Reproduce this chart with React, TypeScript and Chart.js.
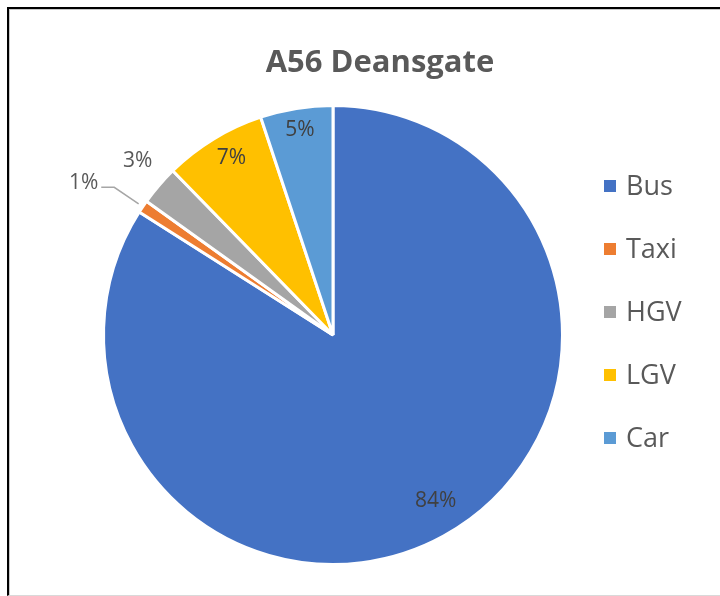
import React, { useEffect, useRef } from "react";
import { Chart, registerables } from "chart.js";

Chart.register(...registerables);

const title = "A56 Deansgate";
const categories = ["Bus", "Taxi", "HGV", "LGV", "Car"];
const shares = [84.0, 0.9, 2.8, 7.2, 5.1];
const colors = ["#4472C4", "#ED7D31", "#A5A5A5", "#FFC000", "#5B9BD5"];

const FONT = "'Open Sans', 'DejaVu Sans', sans-serif";

// radial position of each data label, as a fraction of the outer radius, and angular nudge (deg)
const labelFactors = [0.85, 1.27, 1.14, 0.89, 0.905];
const labelNudges = [-3, 0, 1, 1.5, 0];

const decorPlugin = {
  id: "decor",
  afterDatasetsDraw(chart: any) {
    const ctx = chart.ctx as CanvasRenderingContext2D;
    const meta = chart.getDatasetMeta(0);
    const data = chart.data.datasets[0].data as number[];
    const total = data.reduce((a, b) => a + b, 0);
    ctx.save();
    meta.data.forEach((arc: any, i: number) => {
      const p = arc.getProps(["startAngle", "endAngle", "outerRadius", "x", "y"], true);
      const mid = (p.startAngle + p.endAngle) / 2;
      const r = p.outerRadius;
      const txt = Math.round((data[i] / total) * 100) + "%";
      ctx.font = `21px ${FONT}`;
      if (i === 1) {
        const sx = p.x + Math.cos(mid) * (r + 5);
        const sy = p.y + Math.sin(mid) * (r + 5);
        const ex = p.x + Math.cos(mid) * (r * 1.15);
        const ey = p.y + Math.sin(mid) * (r * 1.15);
        ctx.strokeStyle = "#A6A6A6";
        ctx.lineWidth = 1.5;
        ctx.beginPath();
        ctx.moveTo(sx, sy);
        ctx.lineTo(ex, ey);
        ctx.lineTo(ex - 13, ey);
        ctx.stroke();
        ctx.fillStyle = "#595959";
        ctx.textAlign = "right";
        ctx.textBaseline = "middle";
        ctx.fillText(txt, ex - 16, ey - 4);
      } else {
        const f = labelFactors[i];
        const a = mid + (labelNudges[i] * Math.PI) / 180;
        const lx = p.x + Math.cos(a) * r * f;
        const ly = p.y + Math.sin(a) * r * f;
        ctx.fillStyle = f > 1 ? "#595959" : "#404040";
        ctx.textAlign = "center";
        ctx.textBaseline = "middle";
        ctx.fillText(txt, lx, ly);
      }
    });

    ctx.fillStyle = "#595959";
    ctx.font = `bold 31px ${FONT}`;
    ctx.textAlign = "center";
    ctx.textBaseline = "middle";
    ctx.fillText(title, 380, 63);

    const labels = chart.data.labels as string[];
    const bg = chart.data.datasets[0].backgroundColor as string[];
    ctx.font = `27px ${FONT}`;
    ctx.textAlign = "left";
    labels.forEach((lab, i) => {
      const cy = 186 + i * 63;
      ctx.fillStyle = bg[i];
      ctx.fillRect(604, cy - 6, 12, 12);
      ctx.fillStyle = "#595959";
      ctx.fillText(lab, 626, cy + 1);
    });
    ctx.restore();
  },
};

export default function App() {
  const ref = useRef<HTMLCanvasElement | null>(null);
  useEffect(() => {
    if (!ref.current) return;
    const chart = new Chart(ref.current, {
      type: "pie",
      data: {
        labels: categories,
        datasets: [
          {
            data: shares,
            backgroundColor: colors,
            borderColor: "#FFFFFF",
            borderWidth: 3,
            radius: 229.5,
          } as any,
        ],
      },
      options: {
        responsive: false,
        animation: false,
        layout: { padding: { left: 0, right: 54, top: 74, bottom: 0 } },
        plugins: {
          legend: { display: false },
          title: { display: false },
          tooltip: { enabled: false },
        },
      },
      plugins: [decorPlugin],
    });
    return () => chart.destroy();
  }, []);
  return (
    <div style={{ position: "fixed", left: 0, top: 0, width: 720, height: 596, overflow: "hidden", background: "#fff" }}>
      <canvas ref={ref} width={720} height={596} style={{ position: "absolute", left: 0, top: 0, width: 720, height: 596 }} />
      <div
        style={{
          position: "absolute",
          left: 7,
          top: 7,
          width: 760,
          height: 586,
          borderTop: "2px solid #000",
          borderLeft: "2px solid #000",
          borderBottom: "1px solid #D9D9D9",
          boxShadow: "inset 1px 1px 0 #C8C8C8",
          pointerEvents: "none",
        }}
      />
    </div>
  );
}
